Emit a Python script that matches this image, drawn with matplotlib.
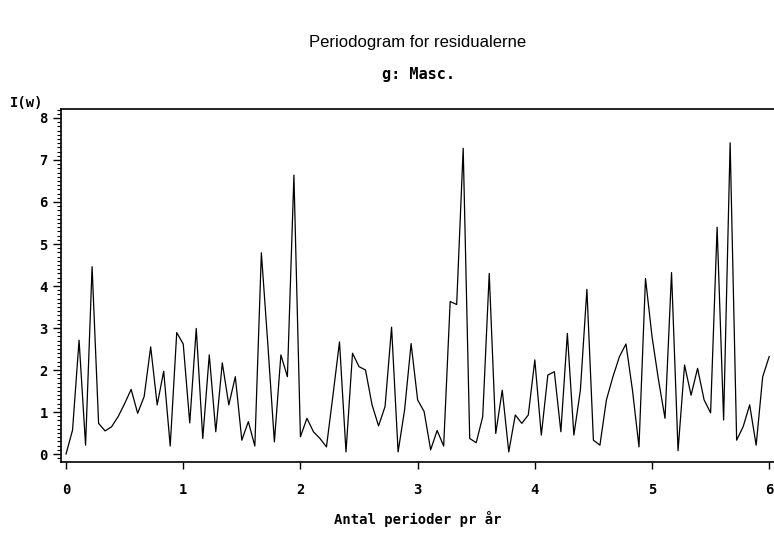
# Periodogram for residualerne - recreated chart
import matplotlib
matplotlib.use("Agg")
import matplotlib.pyplot as plt
from matplotlib.ticker import MultipleLocator

# Frequencies: k/18 cycles per year, k = 0..108
k_index = list(range(109))
freq = [k / 18 for k in k_index]

# Periodogram values
I_w = [
    0.00, 0.57, 2.71, 0.21, 4.46, 0.73, 0.55, 0.65, 0.89, 1.20,
    1.54, 0.97, 1.37, 2.55, 1.17, 1.97, 0.19, 2.89, 2.62, 0.74,
    2.99, 0.37, 2.36, 0.53, 2.17, 1.17, 1.84, 0.33, 0.77, 0.19,
    4.79, 2.60, 0.29, 2.36, 1.84, 6.64, 0.41, 0.85, 0.53, 0.37,
    0.17, 1.40, 2.67, 0.05, 2.40, 2.08, 2.00, 1.17, 0.67, 1.13,
    3.02, 0.05, 1.05, 2.63, 1.29, 1.01, 0.10, 0.56, 0.19, 3.63,
    3.56, 7.28, 0.37, 0.27, 0.89, 4.30, 0.49, 1.52, 0.05, 0.93,
    0.73, 0.93, 2.24, 0.45, 1.88, 1.96, 0.53, 2.87, 0.45, 1.52,
    3.92, 0.33, 0.21, 1.29, 1.84, 2.32, 2.62, 1.52, 0.17, 4.18,
    2.80, 1.76, 0.85, 4.32, 0.08, 2.12, 1.40, 2.04, 1.29, 0.98,
    5.40, 0.81, 7.41, 0.33, 0.65, 1.17, 0.21, 1.84, 2.32,
]

x_ticks = [0, 1, 2, 3, 4, 5, 6]
y_ticks = [0, 1, 2, 3, 4, 5, 6, 7, 8]

mono = "DejaVu Sans Mono"

fig = plt.figure(figsize=(7.74, 5.37), dpi=100)
ax = fig.add_axes([61 / 774, 75 / 537, 713 / 774, 353 / 537])

ax.plot(freq, I_w, color="black", linewidth=0.9)

ax.set_xlim(-0.043, 6.041)
ax.set_ylim(-0.19, 8.214)

ax.set_xticks(x_ticks)
ax.set_yticks(y_ticks)
ax.yaxis.set_minor_locator(MultipleLocator(0.1))
ax.tick_params(axis="x", which="major", direction="out", length=5,
               width=1, labelsize=10, pad=10)
ax.tick_params(axis="y", which="major", direction="out", length=6,
               width=1, labelsize=10)
ax.tick_params(axis="y", which="minor", direction="out", length=3, width=0.8)
for lab in ax.get_xticklabels() + ax.get_yticklabels():
    lab.set_fontfamily(mono)
    lab.set_fontweight("bold")

for sp in ax.spines.values():
    sp.set_linewidth(1.2)
ax.spines["right"].set_visible(False)

ax.set_xlabel("Antal perioder pr år", fontfamily=mono, fontweight="bold",
              fontsize=10, labelpad=10)

fig.text(10 / 774, 1 - 103 / 537, "I(w)", fontfamily=mono, fontweight="bold",
         fontsize=10, va="center", ha="left")

fig.text(418 / 774, 1 - 42 / 537, "Periodogram for residualerne",
         fontfamily="Liberation Sans", fontsize=12, ha="center", va="center")
fig.text(418 / 774, 1 - 75 / 537, "g: Masc.", fontfamily=mono,
         fontweight="bold", fontsize=11, ha="center", va="center")

fig.savefig("out.png", dpi=100)
